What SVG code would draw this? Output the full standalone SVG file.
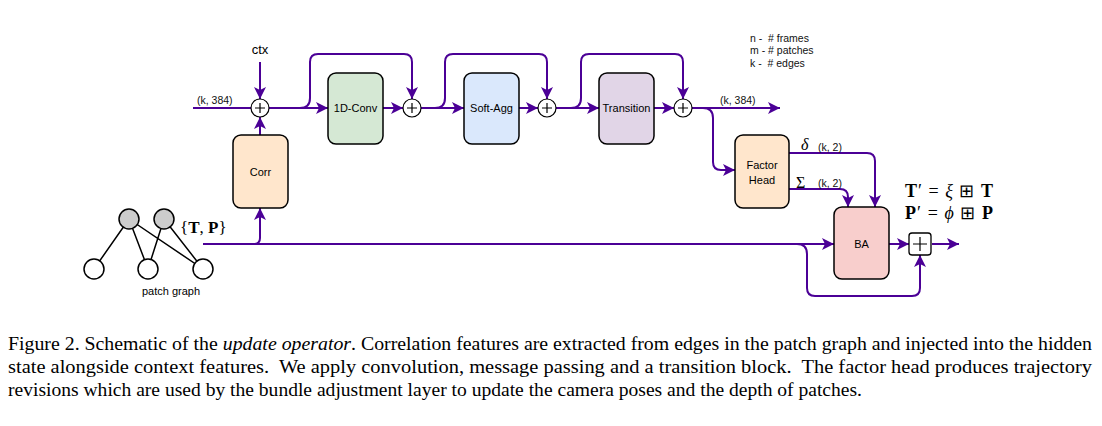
<svg xmlns="http://www.w3.org/2000/svg" width="1102" height="426" viewBox="0 0 1102 426">
<style>
.ln{fill:none;stroke:#4B0096;stroke-width:2}
.ar{marker-end:url(#ah)}
.box{stroke:#000;stroke-width:1.5}
.lbl{font-family:"Liberation Sans",Arial,sans-serif;font-size:11px;fill:#000;text-anchor:middle;dominant-baseline:central}
.sm{font-family:"Liberation Sans",Arial,sans-serif;font-size:10.5px;fill:#111;white-space:pre}
.sf{font-family:"Liberation Serif","Times New Roman",serif;fill:#000}
.pc{fill:#fff;stroke:#000;stroke-width:1.2}
.pl{stroke:#000;stroke-width:1.2}
.ge{stroke:#000;stroke-width:1.5}
.cap{font-family:"Liberation Serif","Times New Roman",serif;font-size:18.5px;fill:#000;white-space:pre}
</style>
<defs>
<marker id="ah" markerUnits="userSpaceOnUse" markerWidth="12" markerHeight="12" refX="10" refY="5" orient="auto" viewBox="0 0 10 10">
<path d="M0,0 L10,5 L0,10 L2.5,5 z" fill="#4B0096"/>
</marker>
</defs>
<rect width="1102" height="426" fill="#fff"/>

<g id="connectors">
<path class="ln" d="M193,108 H251"/>
<path class="ln ar" d="M260,62 V99"/>
<path class="ln ar" d="M260,135 V117"/>
<path class="ln ar" d="M203,244 H254 Q260,244 260,238 V208"/>
<path class="ln ar" d="M254,244 H834"/>
<path class="ln ar" d="M269,108 H328"/>
<path class="ln ar" d="M300,108 Q310,108 310,98 V62 Q310,54 318,54 H404 Q412,54 412,62 V99"/>
<path class="ln ar" d="M383,108 H403"/>
<path class="ln ar" d="M421,108 H464"/>
<path class="ln ar" d="M435,108 Q445,108 445,98 V62 Q445,54 453,54 H539 Q547,54 547,62 V99"/>
<path class="ln ar" d="M519,108 H538"/>
<path class="ln ar" d="M556,108 H599"/>
<path class="ln ar" d="M571,108 Q581,108 581,98 V62 Q581,54 589,54 H675 Q683,54 683,62 V99"/>
<path class="ln ar" d="M654,108 H674"/>
<path class="ln ar" d="M692,108 H780"/>
<path class="ln ar" d="M703,108 Q713,108 713,118 V162 Q713,170 721,170 H735"/>
<path class="ln ar" d="M789,153 H867 Q875,153 875,161 V207"/>
<path class="ln ar" d="M789,189 H840 Q848,189 848,197 V207"/>
<path class="ln ar" d="M797,244 Q807,244 807,254 V288 Q807,296 815,296 H912 Q920,296 920,288 V255"/>
<path class="ln ar" d="M889,244 H909"/>
<path class="ln ar" d="M932,244 H959"/>
</g>

<g id="labels">
<text class="sm" x="197" y="104">(k, 384)</text>
<text class="sm" x="720" y="104">(k, 384)</text>
<text x="260" y="54" font-family="Liberation Sans,Arial,sans-serif" font-size="13" text-anchor="middle">ctx</text>
<text class="sf" x="801" y="150" font-size="16" font-style="italic">δ</text>
<text class="sm" x="818" y="151">(k, 2)</text>
<text class="sf" x="796" y="188" font-size="16">Σ</text>
<text class="sm" x="818" y="187">(k, 2)</text>
<text class="sf" x="905" y="197" font-size="18" textLength="88" lengthAdjust="spacing"><tspan font-weight="bold">T</tspan>′ = <tspan font-style="italic">ξ</tspan> ⊞ <tspan font-weight="bold">T</tspan></text>
<text class="sf" x="905" y="219" font-size="18" textLength="88" lengthAdjust="spacing"><tspan font-weight="bold">P</tspan>′ = <tspan font-style="italic">ϕ</tspan> ⊞ <tspan font-weight="bold">P</tspan></text>
<text class="sf" x="180" y="233" font-size="17">{<tspan font-weight="bold">T</tspan>, <tspan font-weight="bold">P</tspan>}</text>
<text class="sm" x="750" y="42">n -  # frames</text>
<text class="sm" x="750" y="54">m - # patches</text>
<text class="sm" x="750" y="67">k -  # edges</text>
</g>

<g id="plus1"><circle class="pc" cx="260" cy="108" r="9"/><path class="pl" d="M255,108 H265 M260,103 V113"/></g>
<g id="plus2"><circle class="pc" cx="412" cy="108" r="9"/><path class="pl" d="M407,108 H417 M412,103 V113"/></g>
<g id="plus3"><circle class="pc" cx="547" cy="108" r="9"/><path class="pl" d="M542,108 H552 M547,103 V113"/></g>
<g id="plus4"><circle class="pc" cx="683" cy="108" r="9"/><path class="pl" d="M678,108 H688 M683,103 V113"/></g>
<g id="boxplus"><rect x="909" y="233" width="22" height="22" rx="3" fill="#fff" stroke="#000" stroke-width="1.3"/><path class="pl" d="M913,244 H927 M920,237 V251"/></g>

<g id="corr"><rect class="box" x="233" y="135" width="55" height="73" rx="8" fill="#ffe6cc"/><text class="lbl" x="260.5" y="172">Corr</text></g>
<g id="conv"><rect class="box" x="328" y="73" width="55" height="71" rx="8" fill="#d5e8d4"/><text class="lbl" x="355.5" y="108">1D-Conv</text></g>
<g id="softagg"><rect class="box" x="464" y="73" width="55" height="71" rx="8" fill="#dae8fc"/><text class="lbl" x="491.5" y="108">Soft-Agg</text></g>
<g id="transition"><rect class="box" x="599" y="73" width="55" height="71" rx="8" fill="#e1d5e7"/><text class="lbl" x="626.5" y="108">Transition</text></g>
<g id="factorhead"><rect class="box" x="735" y="135" width="54" height="73" rx="8" fill="#ffe6cc"/><text class="lbl" x="762" y="165">Factor</text><text class="lbl" x="762" y="180">Head</text></g>
<g id="ba"><rect class="box" x="834" y="207" width="55" height="72" rx="8" fill="#f8cecc"/><text class="lbl" x="861.5" y="244">BA</text></g>

<g id="patchgraph">
<path class="ge" d="M129,219 L94,269 M129,219 L148,269 M129,219 L203,269 M164,219 L148,269 M164,219 L203,269"/>
<circle cx="129" cy="219" r="10" fill="#ccc" stroke="#000" stroke-width="1.5"/>
<circle cx="164" cy="219" r="10" fill="#ccc" stroke="#000" stroke-width="1.5"/>
<circle cx="94" cy="269" r="10" fill="#fff" stroke="#000" stroke-width="1.5"/>
<circle cx="148" cy="269" r="10" fill="#fff" stroke="#000" stroke-width="1.5"/>
<circle cx="203" cy="269" r="10" fill="#fff" stroke="#000" stroke-width="1.5"/>
<text class="lbl" x="171" y="291">patch graph</text>
</g>

<g id="caption">
<text class="cap" x="8" y="350" textLength="1084" lengthAdjust="spacingAndGlyphs">Figure 2. Schematic of the <tspan font-style="italic">update operator</tspan>. Correlation features are extracted from edges in the patch graph and injected into the hidden</text>
<text class="cap" x="8" y="373" textLength="1084" lengthAdjust="spacingAndGlyphs">state alongside context features.  We apply convolution, message passing and a transition block.  The factor head produces trajectory</text>
<text class="cap" x="8" y="396" textLength="854" lengthAdjust="spacingAndGlyphs">revisions which are used by the bundle adjustment layer to update the camera poses and the depth of patches.</text>
</g>
</svg>
